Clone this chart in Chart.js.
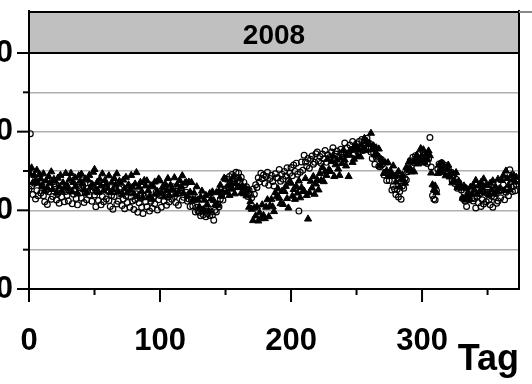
<!DOCTYPE html>
<html>
<head>
<meta charset="utf-8">
<script src="https://cdn.jsdelivr.net/npm/chart.js@4.4.1/dist/chart.umd.min.js"></script>
<style>
  html, body { margin: 0; padding: 0; background: #fff; overflow: hidden; }
  #wrap { position: absolute; left: -68px; top: 0; width: 600px; height: 384px; }
</style>
</head>
<body>
<div id="wrap"><canvas id="chart" width="600" height="384"></canvas></div>
<script>
// Panel title and axis ticks
const panelTitle = '2008';
const xMajor = [0, 100, 200, 300];
const xMinor = [50, 150, 250, 350];
const yMajor = [0, 20, 40, 60];
const yMinor = [10, 30, 50];

// Series, one value per day starting at day 0
const triangles = [
  30.5, 29.2, 30.8, 27.1, 28.9, 27.6, 30.2, 26.9, 29.1, 28.0,
  26.1, 29.3, 25.0, 27.5, 25.7, 28.6, 26.9, 29.8, 25.3, 27.9,
  27.4, 24.4, 28.2, 26.0, 28.9, 24.9, 27.0, 25.7, 29.4, 26.4,
  25.4, 27.9, 29.4, 24.7, 27.1, 28.3, 26.0, 24.4, 28.8, 27.4,
  29.2, 26.7, 25.2, 28.0, 24.5, 27.7, 28.9, 25.8, 26.5, 29.7,
  30.4, 25.4, 27.1, 24.6, 27.9, 26.2, 29.3, 25.0, 27.6, 26.6,
  25.6, 28.8, 24.5, 27.0, 25.2, 28.1, 26.4, 29.3, 24.8, 27.4,
  26.9, 23.9, 27.7, 25.5, 28.4, 24.4, 26.5, 25.2, 28.9, 25.9,
  24.2, 26.7, 29.6, 23.5, 25.9, 27.1, 24.8, 23.2, 27.6, 26.2,
  27.5, 25.0, 23.5, 26.3, 22.8, 26.0, 27.2, 24.1, 24.8, 28.0,
  27.5, 24.2, 25.9, 23.4, 26.7, 25.0, 28.1, 23.8, 26.4, 25.4,
  25.1, 28.3, 24.0, 26.5, 24.7, 27.6, 25.9, 28.8, 24.3, 26.9,
  27.1, 23.8, 27.2, 24.6, 27.1, 22.7, 24.4, 22.7, 26.0, 22.6,
  20.9, 23.4, 24.9, 20.2, 22.6, 23.8, 21.5, 19.9, 24.3, 22.9,
  24.7, 22.5, 21.4, 24.5, 21.3, 24.9, 26.4, 23.6, 24.7, 28.2,
  27.9, 24.6, 26.3, 23.8, 27.1, 25.4, 28.5, 24.2, 26.8, 25.8,
  25.8, 28.0, 24.4, 26.1, 24.2, 25.8, 23.7, 25.2, 20.8, 22.2,
  20.3, 17.4, 20.6, 18.6, 20.9, 17.3, 19.4, 17.9, 21.4, 18.7,
  17.9, 20.8, 22.7, 18.4, 21.2, 22.8, 20.9, 19.7, 24.5, 23.5,
  25.5, 23.1, 21.7, 24.8, 21.5, 24.8, 26.1, 23.0, 20.6, 27.4,
  26.9, 23.6, 25.3, 22.8, 26.1, 24.4, 27.5, 23.2, 25.8, 24.8,
  24.9, 28.1, 23.8, 17.8, 24.5, 27.4, 25.7, 28.6, 24.1, 26.7,
  27.8, 25.2, 29.4, 27.6, 30.9, 27.3, 29.8, 28.9, 33.0, 30.4,
  29.9, 32.4, 33.9, 28.6, 31.6, 32.8, 30.5, 28.9, 33.3, 31.9,
  35.2, 32.8, 31.3, 34.2, 28.6, 34.0, 35.3, 32.2, 33.0, 36.3,
  36.0, 33.7, 35.3, 33.6, 36.6, 35.5, 38.3, 35.2, 37.5, 37.0,
  36.8, 39.6, 35.4, 36.4, 34.1, 35.9, 34.0, 35.6, 31.4, 32.9,
  32.1, 29.4, 32.1, 30.1, 32.1, 28.6, 30.0, 28.6, 31.3, 28.6,
  27.2, 28.9, 29.9, 26.0, 27.9, 29.0, 27.7, 26.9, 30.9, 30.3,
  32.3, 30.6, 29.8, 32.3, 29.8, 32.8, 34.0, 31.8, 32.8, 35.7,
  33.6, 35.4, 32.1, 34.3, 33.0, 35.1, 33.9, 29.5, 26.5, 25.2,
  26.2, 24.5, 29.4, 31.5, 30.2, 32.0, 29.6, 31.2, 28.8, 30.5,
  31.5, 28.5, 29.4, 27.0, 29.3, 27.5, 29.6, 25.8, 27.4, 26.2,
  25.8, 23.1, 26.2, 22.6, 25.5, 23.9, 22.8, 25.9, 24.1, 26.4,
  25.1, 27.6, 24.2, 26.2, 24.8, 27.1, 25.7, 28.0, 24.4, 26.5,
  26.3, 23.9, 26.9, 25.2, 27.5, 24.3, 26.0, 24.9, 27.9, 25.5,
  25.5, 27.6, 28.8, 25.0, 30.0, 28.1, 26.4, 25.2, 28.8, 27.7,
  28.9, 27.2, 28.4
];
const circles = [
  25.4, 39.5, 26.2, 24.0, 26.9, 22.9, 25.0, 23.7, 27.4, 24.4,
  26.2, 23.7, 22.2, 25.0, 21.5, 24.7, 25.9, 22.8, 23.5, 26.7,
  25.9, 22.6, 24.3, 21.8, 25.1, 23.4, 26.5, 22.2, 24.8, 23.8,
  22.4, 24.9, 26.4, 21.7, 24.1, 25.3, 23.0, 21.4, 25.8, 24.4,
  23.1, 26.3, 22.0, 24.5, 22.7, 25.6, 23.9, 26.8, 22.3, 24.9,
  23.9, 20.9, 24.7, 22.5, 25.4, 21.4, 23.5, 22.2, 25.9, 22.9,
  25.0, 22.5, 21.0, 23.8, 20.3, 23.5, 24.7, 21.6, 22.3, 25.5,
  24.5, 21.2, 22.9, 20.4, 23.7, 22.0, 25.1, 20.8, 23.4, 22.4,
  20.2, 22.7, 24.2, 19.5, 21.9, 23.1, 20.8, 19.2, 23.6, 22.2,
  20.9, 24.1, 19.8, 22.3, 20.5, 23.4, 21.7, 24.6, 20.1, 22.7,
  23.8, 20.8, 24.6, 22.4, 25.3, 21.3, 23.4, 22.1, 25.8, 22.8,
  26.0, 23.5, 22.0, 24.8, 21.3, 24.5, 25.7, 22.6, 23.3, 26.5,
  24.6, 22.3, 22.9, 21.0, 22.6, 21.1, 22.6, 19.6, 20.8, 19.8,
  19.5, 18.6, 20.1, 18.9, 19.8, 18.4, 19.2, 20.3, 18.7, 19.6,
  18.8, 17.5, 20.0, 19.6, 21.6, 20.9, 22.8, 23.9, 22.6, 24.9,
  25.4, 27.9, 26.0, 28.6, 26.3, 29.1, 27.0, 28.0, 29.7, 27.4,
  29.5, 27.2, 28.4, 25.8, 27.1, 24.6, 26.0, 23.5, 25.1, 24.0,
  23.2, 25.4, 24.1, 26.5, 25.8, 28.3, 27.2, 29.4, 28.0, 29.0,
  26.9, 28.6, 29.7, 26.4, 28.1, 28.9, 27.3, 26.2, 29.3, 28.3,
  28.2, 30.4, 27.4, 29.2, 27.9, 29.9, 28.7, 30.8, 27.6, 29.4,
  30.9, 28.8, 31.5, 29.9, 32.0, 29.2, 19.8, 29.7, 32.3, 30.2,
  34.0, 32.3, 31.2, 33.2, 30.7, 33.0, 33.8, 31.7, 32.2, 34.4,
  34.8, 32.5, 33.7, 32.0, 34.3, 33.1, 35.2, 32.2, 34.1, 33.4,
  33.1, 34.8, 35.9, 32.6, 34.3, 35.1, 33.5, 32.4, 35.5, 34.5,
  34.9, 37.1, 34.1, 35.9, 34.6, 36.6, 35.4, 37.5, 34.3, 36.1,
  36.9, 34.8, 37.5, 35.9, 38.0, 35.2, 36.6, 35.7, 38.3, 36.2,
  37.0, 34.8, 33.2, 34.7, 31.7, 33.5, 33.8, 31.2, 31.1, 32.9,
  31.8, 29.0, 29.7, 27.6, 29.2, 27.6, 29.0, 25.2, 26.1, 25.4,
  24.0, 25.3, 23.4, 24.8, 22.8, 26.2, 25.6, 28.1, 27.7, 29.8,
  30.2, 32.6, 31.4, 33.5, 32.1, 33.9, 32.5, 34.2, 32.8, 33.4,
  32.7, 34.0, 32.2, 33.6, 31.9, 33.1, 38.5, 31.0, 23.8, 22.9,
  22.6, 25.0, 30.5, 31.8, 30.2, 32.1, 30.8, 31.5, 29.6, 30.9,
  30.6, 28.8, 29.7, 27.5, 28.9, 26.8, 27.9, 25.6, 27.0, 25.9,
  25.2, 23.0, 24.6, 22.3, 21.0, 24.1, 22.7, 25.3, 23.1, 22.4,
  23.0, 20.6, 23.6, 21.9, 24.2, 21.0, 22.7, 21.6, 24.6, 22.2,
  24.6, 22.6, 21.4, 23.6, 20.8, 23.4, 24.3, 21.8, 22.4, 25.0,
  23.2, 25.2, 26.4, 22.7, 24.6, 25.5, 23.7, 30.3, 25.9, 24.8,
  26.1, 25.0, 26.6
];

const toPoints = arr => arr.map((v, day) => ({ x: day, y: v }));

const boldFont = size => ({ family: "'Liberation Sans', Arial, sans-serif", weight: 'bold', size: size });

// strip, panel frame and the long/short tick marks
const latticePanel = {
  id: 'latticePanel',
  afterDatasetsDraw(chart) {
    const { ctx, chartArea: a, scales } = chart;
    const xs = scales.x, ys = scales.y;
    ctx.save();
    ctx.strokeStyle = '#000';
    ctx.lineWidth = 2;

    // frame
    ctx.beginPath();
    ctx.moveTo(a.left, 10); ctx.lineTo(a.left, a.bottom);
    ctx.lineTo(a.right, a.bottom); ctx.lineTo(a.right, 10);
    ctx.stroke();

    // y ticks
    yMajor.forEach(v => {
      const p = ys.getPixelForValue(v);
      ctx.beginPath(); ctx.moveTo(a.left - 12, p); ctx.lineTo(a.left, p); ctx.stroke();
    });
    yMinor.forEach(v => {
      const p = ys.getPixelForValue(v);
      ctx.beginPath(); ctx.moveTo(a.left - 6, p); ctx.lineTo(a.left, p); ctx.stroke();
    });
    // x ticks
    xMajor.forEach(v => {
      const p = xs.getPixelForValue(v);
      ctx.beginPath(); ctx.moveTo(p, a.bottom); ctx.lineTo(p, a.bottom + 13); ctx.stroke();
    });
    xMinor.forEach(v => {
      const p = xs.getPixelForValue(v);
      ctx.beginPath(); ctx.moveTo(p, a.bottom); ctx.lineTo(p, a.bottom + 6); ctx.stroke();
    });

    // strip
    ctx.fillStyle = '#c0c0c0';
    ctx.fillRect(a.left, 12, a.right - a.left, a.top - 12);
    ctx.strokeRect(a.left, 12, a.right - a.left, a.top - 12);
    ctx.fillStyle = '#000';
    ctx.font = "bold 28px 'Liberation Sans', Arial, sans-serif";
    ctx.textAlign = 'center';
    ctx.textBaseline = 'middle';
    ctx.fillText(panelTitle, (a.left + a.right) / 2, 36);

    // little grey tick sticking out top right
    ctx.strokeStyle = '#888';
    ctx.beginPath(); ctx.moveTo(a.right, 12); ctx.lineTo(a.right + 14, 12); ctx.stroke();
    ctx.restore();
  }
};

const ctx = document.getElementById('chart').getContext('2d');
const chart = new Chart(ctx, {
  type: 'scatter',
  data: {
    datasets: [
      {
        label: 'circles',
        data: toPoints(circles),
        pointStyle: 'circle',
        pointRadius: 2.9,
        borderWidth: 1.2,
        borderColor: '#000',
        backgroundColor: 'rgba(0,0,0,0)'
      },
      {
        label: 'triangles',
        data: toPoints(triangles),
        pointStyle: 'triangle',
        pointRadius: 4.1,
        borderWidth: 1,
        borderColor: '#000',
        backgroundColor: '#000'
      }
    ]
  },
  options: {
    responsive: false,
    animation: false,
    layout: { padding: { top: 53, right: 13, left: 0, bottom: 0 } },
    plugins: { legend: { display: false }, tooltip: { enabled: false } },
    scales: {
      x: {
        type: 'linear',
        min: 0,
        max: 374,
        afterFit: s => { s.height = 95; },
        afterBuildTicks: s => { s.ticks = xMajor.map(v => ({ value: v })); },
        grid: { display: false },
        border: { display: false },
        ticks: {
          padding: 26,
          maxRotation: 0,
          autoSkip: false,
          color: '#000',
          font: boldFont(31)
        },
        title: {
          display: true,
          text: 'Tag',
          align: 'end',
          color: '#000',
          font: boldFont(36),
          padding: { top: 0, bottom: 2 }
        }
      },
      y: {
        min: 0,
        max: 60,
        afterFit: s => { s.width = 97; },
        afterBuildTicks: s => { s.ticks = yMajor.concat(yMinor).sort((a, b) => a - b).map(v => ({ value: v })); },
        grid: {
          drawTicks: false,
          color: c => (c.tick && (c.tick.value === 0 || c.tick.value === 60)) ? 'rgba(0,0,0,0)' : '#b0b0b0',
          lineWidth: 1.5
        },
        border: { display: false },
        ticks: {
          padding: 16,
          autoSkip: false,
          color: '#000',
          font: boldFont(31),
          callback: v => yMajor.includes(v) ? String(v) : ''
        }
      }
    }
  },
  plugins: [latticePanel]
});
</script>
</body>
</html>
